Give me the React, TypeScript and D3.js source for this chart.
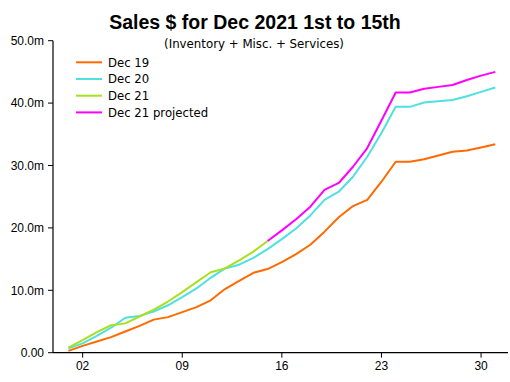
import React from "react";
import * as d3 from "d3";

const days: number[] = d3.range(1, 32);
const dec19: number[] = [0.3, 1.1, 1.8, 2.5, 3.4, 4.3, 5.3, 5.7, 6.5, 7.3, 8.4, 10.2, 11.5, 12.8, 13.4, 14.5, 15.8, 17.3, 19.4, 21.7, 23.5, 24.5, 27.4, 30.6, 30.6, 31.0, 31.6, 32.2, 32.4, 32.9, 33.4];
const dec20: number[] = [0.7, 1.5, 2.7, 4.0, 5.6, 5.9, 6.6, 7.6, 8.9, 10.3, 12.0, 13.5, 14.1, 15.2, 16.6, 18.2, 19.9, 22.0, 24.5, 25.8, 28.2, 31.4, 35.2, 39.4, 39.4, 40.1, 40.3, 40.5, 41.1, 41.8, 42.5];
const dec21Days: number[] = d3.range(1, 16);
const dec21: number[] = [0.8, 2.0, 3.3, 4.4, 4.7, 5.8, 6.9, 8.2, 9.7, 11.3, 12.9, 13.5, 14.8, 16.2, 17.9];
const projDays: number[] = d3.range(15, 32);
const dec21Proj: number[] = [17.9, 19.6, 21.4, 23.4, 26.1, 27.2, 29.8, 32.8, 37.2, 41.7, 41.7, 42.3, 42.6, 42.9, 43.7, 44.4, 45.0];

const seriesNames: string[] = ["Dec 19", "Dec 20", "Dec 21", "Dec 21 projected"];
const seriesColors: string[] = ["#ff6a00", "#4fe0e0", "#a8e020", "#ff00ff"];
const xTicks: number[] = [2, 9, 16, 23, 30];
const yTicks: number[] = [0, 10, 20, 30, 40, 50];

const title = "Sales $ for Dec 2021 1st to 15th";
const subtitle = "(Inventory + Misc. + Services)";

export default function App() {
  const W = 510, H = 382;
  const x = d3.scaleLinear().domain([1, 31]).range([68.4, 495.3]);
  const y = d3.scaleLinear().domain([0, 50]).range([352.7, 40.7]);
  const font = "'Liberation Sans', Arial, sans-serif";
  const font2 = "'DejaVu Sans', Verdana, sans-serif";
  const line = (xs: number[], ys: number[]) =>
    d3.line<number>().x((_, i) => x(xs[i])).y((v) => y(v))(ys) || "";
  const series = [
    { xs: days, ys: dec19 },
    { xs: days, ys: dec20 },
    { xs: dec21Days, ys: dec21 },
    { xs: projDays, ys: dec21Proj },
  ];
  const yFmt = (v: number) => (v === 0 ? "0.00" : d3.format(".1f")(v) + "m");
  const xFmt = d3.format("02d");
  const axisX0 = 53, axisX1 = 508, axisY = y(0);
  return (
    <svg width={W} height={H} style={{ position: "absolute", left: 0, top: 0, background: "#fff" }} fontFamily={font}>
      <text x={255} y={29} textAnchor="middle" fontSize={19.5} fontWeight="bold" fill="#000">{title}</text>
      <text x={254} y={48} textAnchor="middle" fontSize={11.8} fontFamily={font2} fill="#000">{subtitle}</text>
      {/* axes */}
      <line x1={axisX0} x2={axisX0} y1={y(50)} y2={axisY} stroke="#000" strokeWidth={1.2} />
      <line x1={axisX0} x2={axisX1} y1={axisY} y2={axisY} stroke="#000" strokeWidth={1.2} />
      {yTicks.map((t) => (
        <g key={"y" + t}>
          <line x1={axisX0 - 5} x2={axisX0} y1={y(t)} y2={y(t)} stroke="#000" />
          <text x={44} y={y(t) + 4.3} textAnchor="end" fontSize={12} fill="#000">{yFmt(t)}</text>
        </g>
      ))}
      {xTicks.map((t) => (
        <g key={"x" + t}>
          <line x1={x(t)} x2={x(t)} y1={axisY} y2={axisY + 5} stroke="#000" />
          <text x={x(t)} y={369.5} textAnchor="middle" fontSize={12} fill="#000">{xFmt(t)}</text>
        </g>
      ))}
      {series.map((s, i) => (
        <path key={i} d={line(s.xs, s.ys)} fill="none" stroke={seriesColors[i]} strokeWidth={2} strokeLinejoin="round" />
      ))}
      {/* legend */}
      {seriesNames.map((n, i) => (
        <g key={n}>
          <line x1={76} x2={102} y1={62.3 + i * 16.7} y2={62.3 + i * 16.7} stroke={seriesColors[i]} strokeWidth={2} />
          <text x={108} y={62.3 + i * 16.7 + 4.3} fontSize={11.7} fontFamily={font2} fill="#000">{n}</text>
        </g>
      ))}
    </svg>
  );
}
